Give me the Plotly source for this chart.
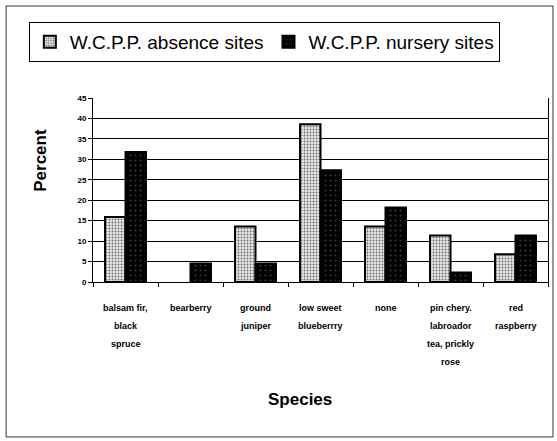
import plotly.graph_objects as go

# data (percent of sites)
species = ["balsam fir", "bearberry", "ground juniper", "low sweet blueberry",
           "none", "pin cherry", "red raspberry"]
label_lines = [
    ["balsam fir,", "black", "spruce"],
    ["bearberry"],
    ["ground", "juniper"],
    ["low sweet", "blueberrry"],
    ["none"],
    ["pin chery.", "labroador", "tea, prickly", "rose"],
    ["red", "raspberry"],
]
absence = [15.9, 0, 13.6, 38.6, 13.6, 11.4, 6.8]
nursery = [31.8, 4.5, 4.5, 27.3, 18.2, 2.3, 11.4]
y_ticks = [0, 5, 10, 15, 20, 25, 30, 35, 40, 45]

FONT = "Liberation Sans, Arial, sans-serif"


def outline(values):
    # no outline for empty bars, like the original
    return [2 if v > 0 else 0 for v in values]


fig = go.Figure()
fig.add_trace(go.Bar(
    x=species, y=absence, name="W.C.P.P. absence sites",
    marker=dict(
        color="#e6e6e6",
        line=dict(color="black", width=outline(absence)),
        pattern=dict(shape=".", bgcolor="#e6e6e6", fgcolor="#6e6e6e",
                     size=3, solidity=0.3, fillmode="replace"),
    ),
))
fig.add_trace(go.Bar(
    x=species, y=nursery, name="W.C.P.P. nursery sites",
    marker=dict(
        color="black",
        line=dict(color="black", width=outline(nursery)),
        pattern=dict(shape=".", bgcolor="black", fgcolor="#3a3a3a",
                     size=5, solidity=0.15, fillmode="replace"),
    ),
))

# multi-line category labels, one annotation per line (wide line spacing)
for name, lines in zip(species, label_lines):
    for i, txt in enumerate(lines):
        fig.add_annotation(
            x=name, y=0, xref="x", yref="paper", yanchor="middle",
            yshift=-26 - 18 * i, text=txt, showarrow=False,
            font=dict(family=FONT, size=9, color="black", weight="bold"),
        )

fig.add_annotation(
    x=-0.116, y=0.66, xref="paper", yref="paper", text="Percent",
    xanchor="center", yanchor="middle", textangle=-90, showarrow=False,
    font=dict(family=FONT, size=17, color="black", weight="bold"),
)
fig.add_annotation(
    x=0.455, y=-0.64, xref="paper", yref="paper", text="Species",
    xanchor="center", yanchor="middle", showarrow=False,
    font=dict(family=FONT, size=17, color="black", weight="bold"),
)

# outer chart border
fig.add_shape(type="rect", xref="paper", yref="paper",
              x0=-0.191, x1=1.011, y0=-0.842, y1=1.5,
              line=dict(color="#333", width=1))

fig.update_layout(
    width=557, height=441,
    margin=dict(l=93, r=9, t=98, b=159, autoexpand=False),
    paper_bgcolor="white", plot_bgcolor="white",
    barmode="group", bargap=0.37, bargroupgap=0,
    font=dict(family=FONT, color="black"),
    showlegend=True,
    legend=dict(
        orientation="h", x=-0.141, y=1.413, xanchor="left", yanchor="top",
        bordercolor="black", borderwidth=1, bgcolor="white",
        font=dict(family=FONT, size=19, color="black"),
        itemwidth=30, tracegroupgap=0,
    ),
    xaxis=dict(
        showticklabels=False, showline=True, linecolor="black", linewidth=1,
        ticks="outside", tickson="boundaries", ticklen=4, tickcolor="black",
        showgrid=False, mirror=False,
    ),
    yaxis=dict(
        range=[0, 45], tickvals=y_ticks, showline=True, linecolor="black",
        linewidth=1, ticks="outside", ticklen=4, tickcolor="black",
        showgrid=True, gridcolor="black", gridwidth=1, zeroline=False,
        mirror=True,
        tickfont=dict(family=FONT, size=8, color="black", weight="bold"),
    ),
)

# page has a default body margin; drop it so the chart sits at 0,0
fig.write_html(
    "out.html",
    config={"displayModeBar": False},
    post_script="document.body.style.margin='0';document.body.style.overflow='hidden';",
)
